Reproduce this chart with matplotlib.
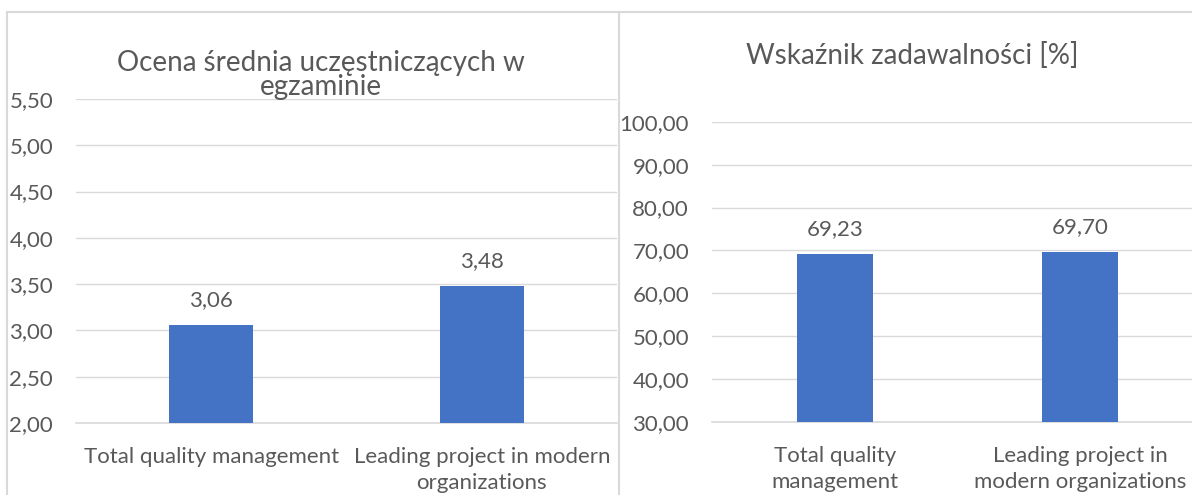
#!/usr/bin/env python3
"""Two Excel-style bar charts: exam mean score and satisfaction index."""

import matplotlib
matplotlib.use("Agg")
import matplotlib.pyplot as plt
from matplotlib.lines import Line2D

# Data
left_title = "Ocena średnia uczęstniczących w\negzaminie"
left_categories = ["Total quality management", "Leading project in modern\norganizations"]
left_values = [3.06, 3.48]
left_ticks = [2.0, 2.5, 3.0, 3.5, 4.0, 4.5, 5.0, 5.5]

right_title = "Wskaźnik zadawalności [%]"
right_categories = ["Total quality\nmanagement", "Leading project in\nmodern organizations"]
right_values = [69.23, 69.70]
right_ticks = [30, 40, 50, 60, 70, 80, 90, 100]

BAR = "#4472C4"
GRID = "#d9d9d9"
TXT = "#595959"
W, H = 1192, 495
FS = 16

plt.rcParams['font.family'] = ['Lato', 'DejaVu Sans']


def fmt(v):
    return f"{v:.2f}".replace(".", ",")


def px_axes(fig, x0, x1, ytop, ybot):
    return fig.add_axes([x0 / W, (H - ybot) / H, (x1 - x0) / W, (ybot - ytop) / H])


def draw_bars(ax, cats, vals, ticks):
    x = range(len(cats))
    ax.bar(x, vals, width=0.31, color=BAR, zorder=3)
    ax.set_xlim(-0.5, len(cats) - 0.5)
    ax.set_ylim(ticks[0], ticks[-1])
    ax.set_yticks(ticks)
    ax.set_yticklabels([fmt(t) for t in ticks])
    ax.set_xticks(list(x))
    ax.set_xticklabels(cats, linespacing=1.4)
    ax.tick_params(axis='y', length=0, pad=16.5, labelsize=FS, labelcolor=TXT)
    ax.tick_params(axis='x', length=0, pad=17, labelsize=FS, labelcolor=TXT)
    ax.grid(axis='y', color=GRID, linewidth=1.0, zorder=0)
    for s in ['top', 'right', 'left']:
        ax.spines[s].set_visible(False)
    ax.spines['bottom'].set_color(GRID)
    ax.spines['bottom'].set_linewidth(1.2)
    for xi, v in zip(x, vals):
        ax.annotate(fmt(v), (xi, v), xytext=(0, 18), textcoords='offset points',
                    ha='center', va='center', fontsize=FS, color=TXT)


fig = plt.figure(figsize=(W / 100, H / 100), dpi=100)

ax1 = px_axes(fig, 76, 617, 99, 423)
draw_bars(ax1, left_categories, left_values, left_ticks)

ax2 = px_axes(fig, 712, 1203, 121.7, 422)
draw_bars(ax2, right_categories, right_values, right_ticks)

# Chart titles
fig.text(321 / W, 1 - 75 / H, left_title, ha='center', va='center',
         fontsize=20, color=TXT, linespacing=0.95)
fig.text(912 / W, 1 - 55 / H, right_title, ha='center', va='center',
         fontsize=20, color=TXT)

# Chart borders
def fline(xs, ys):
    fig.add_artist(Line2D([x / W for x in xs], [1 - y / H for y in ys],
                          color=GRID, linewidth=1.5))

fline([6.5, 6.5], [12, H])
fline([6.5, W], [12, 12])
fline([619, 619], [12, H])

plt.savefig("out.png", dpi=100)
